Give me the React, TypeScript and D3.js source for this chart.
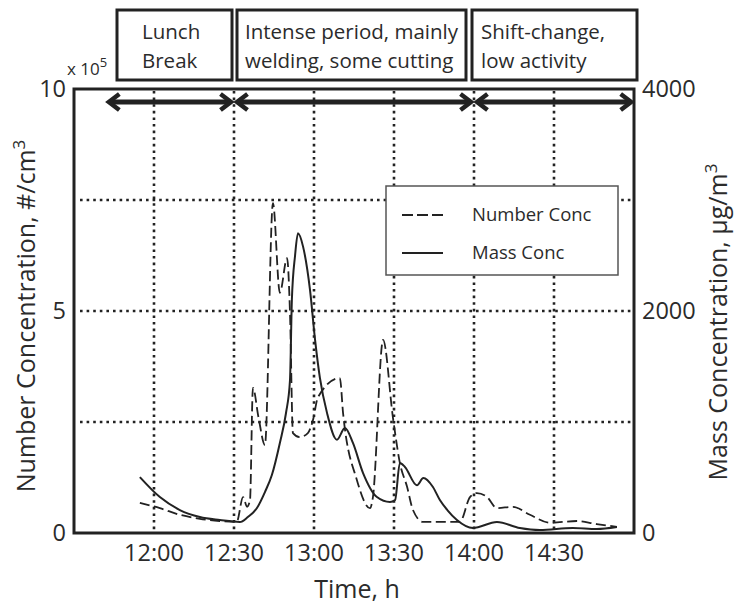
import { useEffect, useRef } from 'react';
import * as d3 from 'd3';

// minutes after 12:00
const massTime = [-5.3, 2.2, 9.7, 17.2, 24.7, 32.2, 35.2, 38.6, 41.6, 44.2, 47.2, 49.5, 51, 51.7, 52.9, 54, 55.9, 58.5, 60.4, 62.2, 64.9, 68.6, 71.6, 74.6, 78.4, 83.6, 88.5, 90.4, 92.2, 94.1, 98.6, 101, 104.6, 107.2, 110, 113.6, 119.6, 128.6, 137.2, 144.7, 157, 166, 173.6];
const massValue = [504, 324, 207, 144, 117, 99, 144, 225, 369, 522, 811, 1081, 1378, 2100, 2500, 2700, 2580, 2190, 1740, 1400, 1080, 840, 946, 811, 540, 324, 279, 297, 630, 595, 430, 495, 414, 297, 207, 117, 45, 99, 45, 27, 45, 36, 54];

const numberTime = [-5.3, 2.2, 9.7, 17.2, 24.7, 31, 33.4, 34.9, 36, 37.1, 39.2, 41.6, 44.6, 47.2, 49.9, 51, 52.1, 54.7, 57.7, 59.6, 61.5, 69.7, 70.9, 76.1, 81, 82.1, 85.9, 89.6, 92.2, 94.9, 97.1, 100.9, 114.7, 118.5, 121.1, 124.9, 128.6, 134.6, 141, 148.5, 158.6, 166, 173.6];
const numberValue = [0.68, 0.56, 0.41, 0.32, 0.27, 0.25, 0.81, 0.59, 0.74, 3.27, 2.6, 1.98, 7.43, 5.41, 6.19, 4.95, 2.25, 2.16, 2.25, 2.54, 3.06, 3.49, 2.7, 1.19, 0.56, 0.81, 4.35, 2.6, 1.58, 1.04, 0.52, 0.25, 0.25, 0.81, 0.9, 0.81, 0.56, 0.59, 0.41, 0.23, 0.27, 0.2, 0.14];

const xTickMinutes = [0, 30, 60, 90, 120, 150];
const xTickLabels = ['12:00', '12:30', '13:00', '13:30', '14:00', '14:30'];
const numberTicks = [0, 5, 10];
const massTicks = [0, 2000, 4000];
const gridValues = [2.5, 5, 7.5];

const phaseLabels = [
  ['Lunch', 'Break'],
  ['Intense period, mainly', 'welding, some cutting'],
  ['Shift-change,', 'low activity'],
];
const phaseStart = [-17.5, 30, 120];
const phaseEnd = [30, 120, 179.5];

const FONT = '"Open Sans", "DejaVu Sans", sans-serif';
const INK = '#222';
const TEXT = '#2b2b2b';

const App = () => {
  const svgRef = useRef<SVGSVGElement>(null);

  useEffect(() => {
    if (!svgRef.current) return;
    const svg = d3.select(svgRef.current);
    svg.selectAll('*').remove();

    const left = 74, right = 634, top = 89, bottom = 533;

    const x = d3.scaleLinear().domain([-30, 180]).range([left, right]);
    const yNum = d3.scaleLinear().domain([0, 10]).range([bottom, top]);
    const yMass = d3.scaleLinear().domain([0, 4000]).range([bottom, top]);

    // dotted grid
    const grid = svg.append('g')
      .attr('stroke', INK)
      .attr('stroke-width', 2.6)
      .attr('stroke-dasharray', '2.6,4');
    grid.selectAll('line.v')
      .data(xTickMinutes)
      .enter()
      .append('line')
      .attr('x1', d => x(d))
      .attr('x2', d => x(d))
      .attr('y1', top + 2)
      .attr('y2', bottom);
    grid.selectAll('line.h')
      .data(gridValues)
      .enter()
      .append('line')
      .attr('x1', left + 6)
      .attr('x2', right - 2)
      .attr('y1', d => yNum(d))
      .attr('y2', d => yNum(d));

    // curves
    const numLine = d3.line<number>()
      .x((_, i) => x(numberTime[i]))
      .y(d => yNum(d))
      .curve(d3.curveMonotoneX);
    const massLine = d3.line<number>()
      .x((_, i) => x(massTime[i]))
      .y(d => yMass(d))
      .curve(d3.curveMonotoneX);

    svg.append('path')
      .attr('d', numLine(numberValue))
      .attr('fill', 'none')
      .attr('stroke', INK)
      .attr('stroke-width', 1.8)
      .attr('stroke-dasharray', '10,4.5');
    svg.append('path')
      .attr('d', massLine(massValue))
      .attr('fill', 'none')
      .attr('stroke', INK)
      .attr('stroke-width', 2);

    // frame
    svg.append('rect')
      .attr('x', left)
      .attr('y', top)
      .attr('width', right - left)
      .attr('height', bottom - top)
      .attr('fill', 'none')
      .attr('stroke', INK)
      .attr('stroke-width', 3);

    // phase arrows
    const arrowY = 102;
    const head = (tipX: number, dir: number) =>
      `M${tipX + dir * 12},${arrowY - 8} L${tipX + 1.5 * dir},${arrowY} L${tipX + dir * 12},${arrowY + 8}`;
    phaseStart.forEach((s, i) => {
      const x0 = x(s) + (i > 0 ? 1.5 : 0);
      const x1 = x(phaseEnd[i]) - (i < phaseStart.length - 1 ? 1.5 : 0);
      const g = svg.append('g')
        .attr('stroke', INK)
        .attr('fill', 'none')
        .attr('stroke-linecap', 'butt')
        .attr('stroke-linejoin', 'miter');
      g.append('line')
        .attr('x1', x0 + 3)
        .attr('x2', x1 - 3)
        .attr('y1', arrowY)
        .attr('y2', arrowY)
        .attr('stroke-width', 5);
      g.append('path').attr('d', head(x0, 1)).attr('stroke-width', 4.5);
      g.append('path').attr('d', head(x1, -1)).attr('stroke-width', 4.5);
    });

    // phase boxes
    const boxes = [[117, 232], [237, 466], [472, 637]];
    const textInset = [25, 8, 9];
    boxes.forEach(([b0, b1], i) => {
      svg.append('rect')
        .attr('x', b0)
        .attr('y', 10)
        .attr('width', b1 - b0)
        .attr('height', 70)
        .attr('fill', 'none')
        .attr('stroke', INK)
        .attr('stroke-width', 3);
      phaseLabels[i].forEach((t, j) => {
        svg.append('text')
          .attr('x', b0 + textInset[i])
          .attr('y', 39 + j * 29)
          .attr('font-family', FONT)
          .attr('font-size', 20.5)
          .attr('fill', TEXT)
          .text(t);
      });
    });

    const txt = (sel: d3.Selection<SVGTextElement, unknown, null, undefined>) =>
      sel.attr('font-family', FONT).attr('fill', TEXT);

    // x axis labels
    xTickMinutes.forEach((m, i) => {
      txt(svg.append('text'))
        .attr('x', x(m))
        .attr('y', 561)
        .attr('text-anchor', 'middle')
        .attr('font-size', 23.5)
        .text(xTickLabels[i]);
    });
    txt(svg.append('text'))
      .attr('x', 357)
      .attr('y', 598)
      .attr('text-anchor', 'middle')
      .attr('font-size', 25)
      .text('Time, h');

    // left axis
    numberTicks.forEach(v => {
      txt(svg.append('text'))
        .attr('x', 66)
        .attr('y', yNum(v) + 8)
        .attr('text-anchor', 'end')
        .attr('font-size', 23.5)
        .text(v);
    });
    const mult = txt(svg.append('text'))
      .attr('x', 67)
      .attr('y', 75)
      .attr('font-size', 17);
    mult.append('tspan').text('x 10');
    mult.append('tspan').attr('dy', -8).attr('font-size', 13).text('5');

    const yl = txt(svg.append('text'))
      .attr('transform', 'translate(35,316) rotate(-90)')
      .attr('text-anchor', 'middle')
      .attr('font-size', 25);
    yl.append('tspan').text('Number Concentration, #/cm');
    yl.append('tspan').attr('dy', -10).attr('font-size', 17).text('3');

    // right axis
    massTicks.forEach(v => {
      txt(svg.append('text'))
        .attr('x', 642)
        .attr('y', yMass(v) + 8)
        .attr('font-size', 23.5)
        .text(v);
    });
    const yr = txt(svg.append('text'))
      .attr('transform', 'translate(727,322) rotate(-90)')
      .attr('text-anchor', 'middle')
      .attr('font-size', 25);
    yr.append('tspan').text('Mass Concentration, \u00b5g/m');
    yr.append('tspan').attr('dy', -10).attr('font-size', 17).text('3');

    // legend
    const lg = svg.append('g').attr('transform', 'translate(386,186)');
    lg.append('rect')
      .attr('width', 232)
      .attr('height', 89)
      .attr('fill', 'white')
      .attr('stroke', '#555')
      .attr('stroke-width', 1.5);
    const items = [
      { label: 'Number Conc', dash: '11,4', y: 29 },
      { label: 'Mass Conc', dash: null, y: 67 },
    ];
    items.forEach(it => {
      lg.append('line')
        .attr('x1', 16)
        .attr('x2', 57)
        .attr('y1', it.y)
        .attr('y2', it.y)
        .attr('stroke', INK)
        .attr('stroke-width', 2)
        .attr('stroke-dasharray', it.dash);
      txt(lg.append('text'))
        .attr('x', 86)
        .attr('y', it.y + 6)
        .attr('font-size', 18.5)
        .text(it.label);
    });
  }, []);

  return (
    <div style={{ position: 'absolute', left: 0, top: 0 }}>
      <svg ref={svgRef} width={735} height={607} style={{ display: 'block', background: 'white' }} />
    </div>
  );
};

export default App;
